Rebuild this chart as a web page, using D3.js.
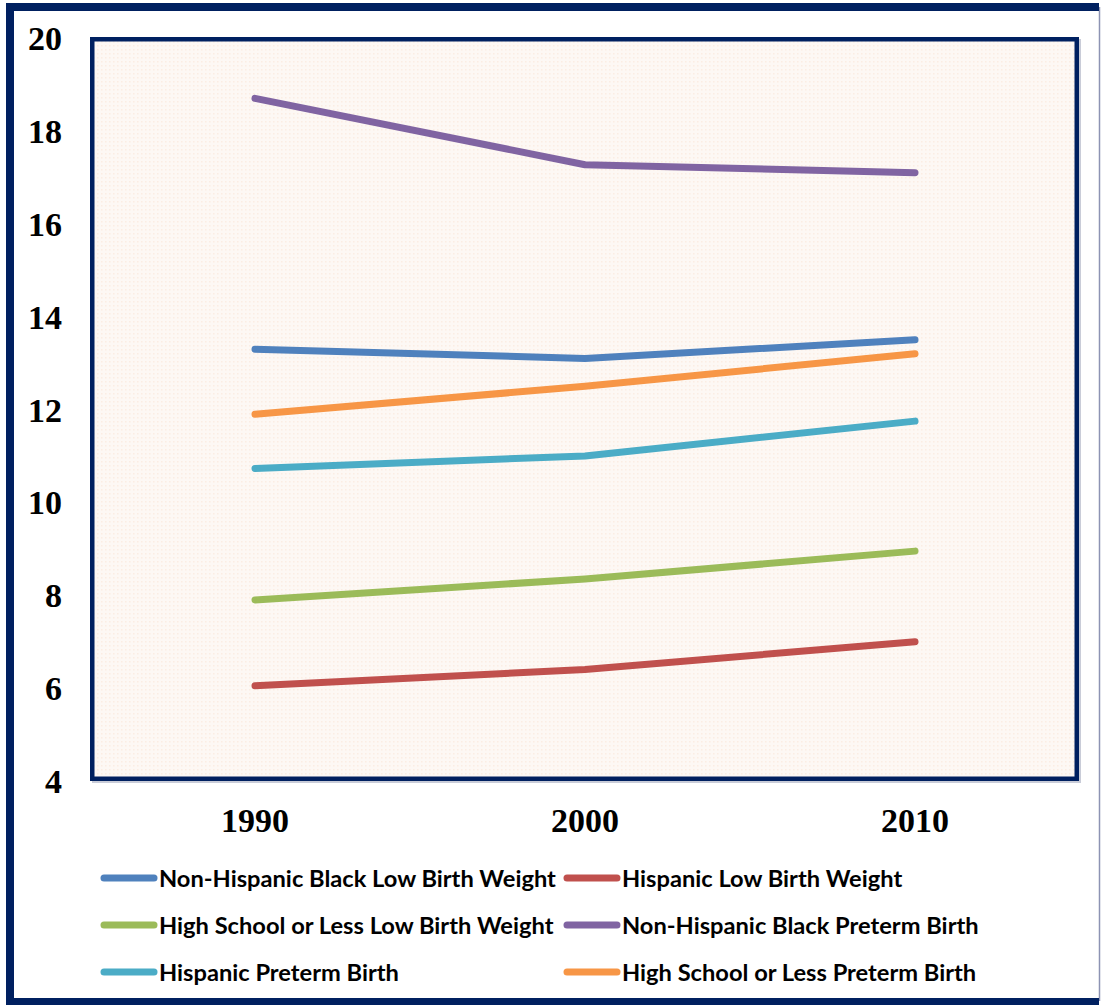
<!DOCTYPE html>
<html>
<head>
<meta charset="utf-8">
<script src="https://cdn.jsdelivr.net/npm/d3@7"></script>
<style>
  html, body { margin: 0; padding: 0; background: #fff; }
  svg { display: block; }
</style>
</head>
<body>
<svg id="chart" width="1102" height="1005"></svg>
<script>
// chart data
const years = ["1990", "2000", "2010"]
const yTicks = [4, 6, 8, 10, 12, 14, 16, 18, 20]

const seriesNames = [
  "Non-Hispanic Black Low Birth Weight",
  "Hispanic Low Birth Weight",
  "High School or Less Low Birth Weight",
  "Non-Hispanic Black Preterm Birth",
  "Hispanic Preterm Birth",
  "High School or Less Preterm Birth",
]
const nhBlackLBW = [13.3, 13.1, 13.5]
const hispanicLBW = [6.05, 6.4, 7.0]
const hsLessLBW = [7.9, 8.35, 8.95]
const nhBlackPreterm = [18.7, 17.27, 17.1]
const hispanicPreterm = [10.73, 11.0, 11.75]
const hsLessPreterm = [11.9, 12.5, 13.2]
const seriesValues = [nhBlackLBW, hispanicLBW, hsLessLBW, nhBlackPreterm, hispanicPreterm, hsLessPreterm]
const colors = ["#4f81bd", "#c0504d", "#9bbb59", "#8064a2", "#4bacc6", "#f79646"]

const svg = d3.select("#chart")
const navy = "#002060"

// outer frame
svg.append("line").attr("x1", 1099.5).attr("x2", 1099.5).attr("y1", 7).attr("y2", 1001)
  .attr("stroke", "#8d93b3").attr("stroke-width", 1.5)
svg.append("path")
  .attr("d", "M1099,7 H10 V1002 H1099")
  .attr("fill", "none").attr("stroke", navy).attr("stroke-width", 8)

// plot area (outer edge of the border)
const plot = { left: 90, right: 1080, top: 38, bottom: 781 }
const bw = 4.5

const defs = svg.append("defs")
const pat = defs.append("pattern").attr("id", "dots")
  .attr("width", 4).attr("height", 4).attr("patternUnits", "userSpaceOnUse")
pat.append("rect").attr("width", 4).attr("height", 4).attr("fill", "#fdf8f4")
pat.append("rect").attr("x", 1).attr("y", 1).attr("width", 1.5).attr("height", 1.5).attr("fill", "#fbede3")

const boxX = plot.left + bw / 2
const boxY = plot.top - 1 + bw / 2
const boxW = plot.right - 1 - plot.left - bw
const boxH = plot.bottom + 1 - plot.top - bw

// soft shadow
svg.append("rect")
  .attr("x", boxX + 2).attr("y", boxY + 2)
  .attr("width", boxW).attr("height", boxH)
  .attr("fill", "none").attr("stroke", "#c9ccd8").attr("stroke-width", bw)
svg.append("rect")
  .attr("x", boxX).attr("y", boxY)
  .attr("width", boxW).attr("height", boxH)
  .attr("fill", "url(#dots)").attr("stroke", navy).attr("stroke-width", bw)

const x = d3.scaleBand().domain(years).range([plot.left, plot.right])
const y = d3.scaleLinear().domain([4, 20]).range([plot.bottom, plot.top])

// y axis labels
const yAxis = svg.append("g")
  .attr("transform", `translate(${62},0)`)
  .call(d3.axisLeft(y).tickValues(yTicks).tickSize(0).tickPadding(0).tickFormat(d3.format("d")))
yAxis.select(".domain").remove()
yAxis.selectAll("text")
  .attr("font-family", "'Liberation Serif', serif")
  .attr("font-weight", "bold")
  .attr("font-size", 34)
  .attr("fill", "#000")
  .attr("dy", "0.34em")

// x axis labels
const xAxis = svg.append("g")
  .attr("transform", `translate(0,${plot.bottom})`)
  .call(d3.axisBottom(x).tickSize(0).tickPadding(0))
xAxis.select(".domain").remove()
xAxis.selectAll("text")
  .attr("font-family", "'Liberation Serif', serif")
  .attr("font-weight", "bold")
  .attr("font-size", 34)
  .attr("fill", "#000")
  .attr("dy", 0)
  .attr("y", 51)

// lines
const line = d3.line()
  .x((d, i) => x(years[i]) + x.bandwidth() / 2)
  .y((d) => y(d))

svg.append("g").selectAll("path")
  .data(seriesValues)
  .join("path")
  .attr("d", line)
  .attr("fill", "none")
  .attr("stroke", (d, i) => colors[i])
  .attr("stroke-width", 7)
  .attr("stroke-linecap", "round")
  .attr("stroke-linejoin", "round")

// legend
const legendCols = [104, 567]
const legendRows = [878, 925, 972]
const legend = svg.append("g").selectAll("g")
  .data(seriesNames)
  .join("g")
  .attr("transform", (d, i) => `translate(${legendCols[i % 2]},${legendRows[Math.floor(i / 2)]})`)

legend.append("line")
  .attr("x1", 0).attr("x2", 50)
  .attr("stroke", (d, i) => colors[i])
  .attr("stroke-width", 7)
  .attr("stroke-linecap", "round")

const legendText = legend.append("text")
  .attr("x", 55)
  .attr("y", 9)
  .attr("font-family", "Lato, 'Open Sans', sans-serif")
  .attr("font-weight", "bold")
  .attr("font-size", 24)
  .attr("fill", "#000")
  .text((d) => d)

// fit legend font to the reference text width
const w0 = legendText.node().getComputedTextLength()
const fs = 24 * 397 / w0
legendText.attr("font-size", fs)
</script>
</body>
</html>
